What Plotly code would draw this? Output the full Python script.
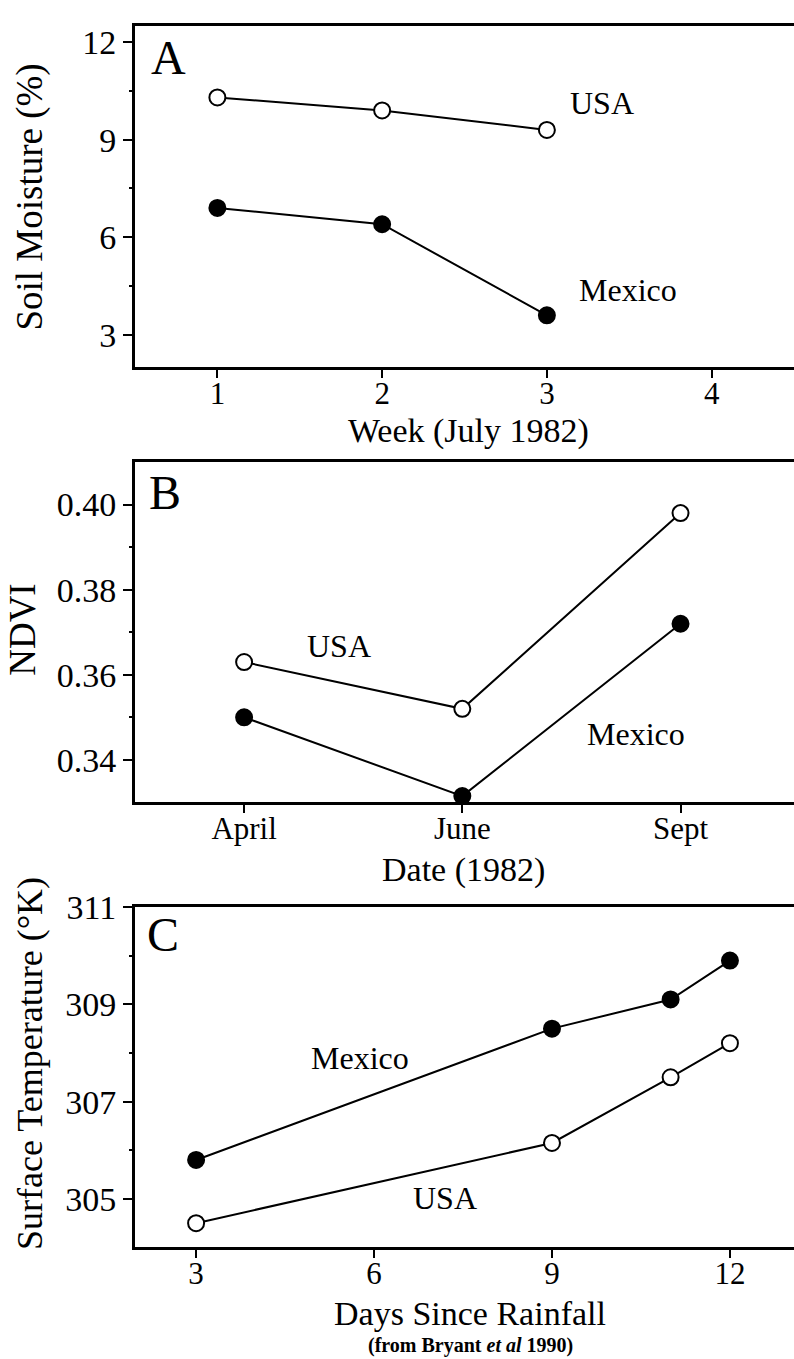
import plotly.graph_objects as go

# ---- data ----
weeks = [1, 2, 3]
soil_usa = [10.3, 9.9, 9.3]
soil_mex = [6.9, 6.4, 3.6]

months = ["April", "June", "Sept"]
ndvi_usa = [0.363, 0.352, 0.398]
ndvi_mex = [0.350, 0.3315, 0.372]

days = [3, 9, 11, 12]
temp_mex = [305.8, 308.5, 309.1, 309.9]
temp_usa = [304.5, 306.15, 307.5, 308.2]

W, H = 794, 1359
FONT = "Liberation Serif"

fig = go.Figure()

def add_pair(xs, usa, mex, xa, ya):
    fig.add_trace(go.Scatter(x=xs, y=usa, mode="lines+markers", xaxis=xa, yaxis=ya,
                             line=dict(color="black", width=2),
                             marker=dict(symbol="circle", size=16, color="white",
                                         line=dict(color="black", width=2)),
                             cliponaxis=False, showlegend=False, name="USA"))
    fig.add_trace(go.Scatter(x=xs, y=mex, mode="lines+markers", xaxis=xa, yaxis=ya,
                             line=dict(color="black", width=2),
                             marker=dict(symbol="circle", size=16, color="black",
                                         line=dict(color="black", width=2)),
                             cliponaxis=False, showlegend=False, name="Mexico"))

add_pair(weeks, soil_usa, soil_mex, "x", "y")
add_pair(months, ndvi_usa, ndvi_mex, "x2", "y2")
add_pair(days, temp_usa, temp_mex, "x3", "y3")

def py(p):
    return 1 - p / H

def px(p):
    return p / W

left = px(135)
xtickfont = dict(family=FONT, size=31, color="black")
ytickfont = dict(family=FONT, size=34, color="black")
minor = dict(ticklen=3, tickwidth=2, tickcolor="black", ticks="outside")

xcommon = dict(showline=True, linewidth=3, linecolor="black", mirror=True,
               ticks="outside", ticklen=8, tickwidth=2, tickcolor="black",
               ticklabelstandoff=-12,
               showgrid=False, zeroline=False, tickfont=xtickfont,
               domain=[left, 1.0], layer="below traces")
ycommon = dict(showline=True, linewidth=3, linecolor="black", mirror=False,
               ticks="outside", ticklen=9, tickwidth=2, tickcolor="black",
               showgrid=False, zeroline=False, tickfont=ytickfont,
               layer="below traces")

fig.update_layout(
    width=W, height=H,
    margin=dict(l=0, r=0, t=0, b=0),
    paper_bgcolor="white", plot_bgcolor="white",
    font=dict(family=FONT, color="black"),
    xaxis=dict(xcommon, range=[0.5, 4.5], tickvals=[1, 2, 3, 4], anchor="y"),
    yaxis=dict(ycommon, range=[2, 12.5], tickvals=[3, 6, 9, 12],
               minor=dict(minor, tickvals=[4.5, 7.5, 10.5]),
               domain=[py(354), py(8)], anchor="x"),
    xaxis2=dict(xcommon, type="category", range=[-0.5, 2.52], anchor="y2"),
    yaxis2=dict(ycommon, range=[0.33, 0.41], tickvals=[0.34, 0.36, 0.38, 0.40],
                ticktext=["0.34", "0.36", "0.38", "0.40"],
                minor=dict(minor, tickvals=[0.35, 0.37, 0.39]),
                domain=[py(795), py(450)], anchor="x2"),
    xaxis3=dict(xcommon, range=[1.97, 13.08], tickvals=[3, 6, 9, 12], anchor="y3"),
    yaxis3=dict(ycommon, range=[304, 311], tickvals=[305, 307, 309, 311],
                minor=dict(minor, tickvals=[306, 308, 310]),
                domain=[py(1246), py(901)], anchor="x3"),
)

def note(text, x, y, size, angle=0):
    fig.add_annotation(text=text, x=px(x), y=py(y), xref="paper", yref="paper",
                       showarrow=False, xanchor="center", yanchor="middle",
                       textangle=angle,
                       font=dict(family=FONT, size=size, color="black"))

# panel letters
note("A", 168, 40, 48)
note("B", 165, 481, 48)
note("C", 163, 929, 48)

# series labels
note("USA", 602, 86, 32)
note("Mexico", 628, 276, 32)
note("USA", 339, 636, 32)
note("Mexico", 636, 726, 32)
note("Mexico", 360, 1054, 32)
note("USA", 445, 1196, 32)

# axis titles
note("Week (July 1982)", 468, 419, 34)
note("Date (1982)", 463, 863, 34)
note("Days Since Rainfall", 470, 1313, 34)
note("<b>(from Bryant <i>et al</i> 1990)</b>", 470, 1345, 20)
note("Soil Moisture (%)", 30, 182, 37, angle=-90)
note("NDVI", 23, 620, 37, angle=-90)
note("Surface Temperature (°K)", 30, 1060, 36, angle=-90)

fig.write_html("out.html",
               config={"displayModeBar": False},
               post_script="document.body.style.margin='0';document.body.style.overflow='hidden';")
